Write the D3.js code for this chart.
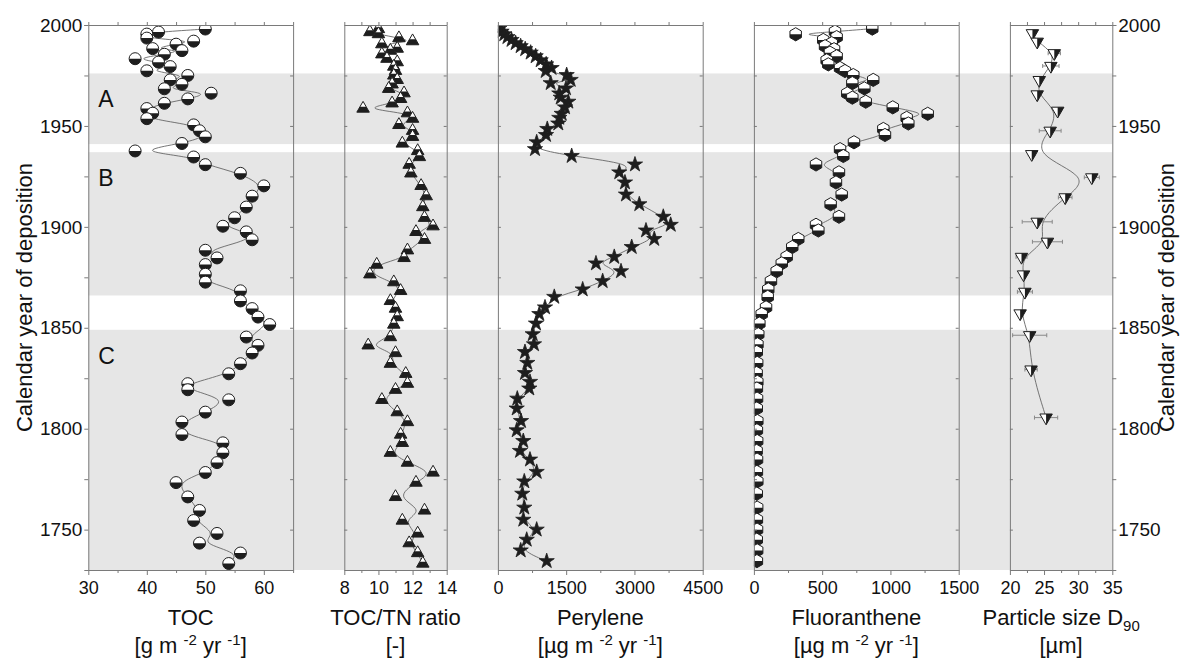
<!DOCTYPE html>
<html>
<head>
<meta charset="utf-8">
<script src="https://cdn.jsdelivr.net/npm/d3@7"></script>
<style>
  body { margin: 0; background: #fff; }
  svg { display: block; }
</style>
</head>
<body>
<div id="chart"></div>
<script>
const width = 1180;
const height = 660;

// sediment samples (TOC and TOC/TN share the same slices)
const sampleYears = [1998, 1996.5, 1995.5, 1993.5, 1992, 1990.5, 1988.3, 1987.3, 1985.5, 1983.3,
  1981.6, 1979.4, 1977.3, 1975, 1972.8, 1970.6, 1968.4, 1966.2, 1963.4, 1961.2,
  1958.6, 1956.3, 1953.6, 1950.5, 1947.6, 1944.6, 1941.3, 1937.6, 1934.6, 1930.8,
  1926.5, 1920.3, 1915.2, 1909.8, 1904.5, 1900.3, 1897.5, 1893.6, 1888.4, 1884.6,
  1881.3, 1876.5, 1872.6, 1868.3, 1863.3, 1859.5, 1855.3, 1851.6, 1845.4, 1841.3,
  1837.5, 1832.2, 1827.2, 1822.3, 1819.3, 1814.3, 1808.2, 1803.3, 1797.1, 1793,
  1788.1, 1783.2, 1778.3, 1773.3, 1766.2, 1759.5, 1754.5, 1748.1, 1743.3, 1738.4, 1733.2];

const tocValues = [50, 42, 40, 40, 48, 45, 41, 46, 43, 38,
  42, 44, 40, 47, 44, 46, 43, 51, 47, 43,
  40, 41, 40, 48, 49, 50, 46, 38, 48, 50,
  56, 60, 58, 57, 55, 53, 57, 58, 50, 52,
  50, 50, 50, 56, 56, 58, 59, 61, 57, 59,
  58, 56, 54, 47, 47, 54, 50, 46, 46, 53,
  53, 52, 50, 45, 47, 49, 48, 52, 49, 56, 54];

const tocTnValues = [10.0, 9.5, 10.0, 11.2, 12.0, 10.2, 11.1, 10.7, 10.2, 10.5,
  11.1, 10.9, 11.0, 10.9, 11.1, 10.8, 10.6, 11.5, 11.3, 10.8,
  9.1, 11.7, 12.0, 11.2, 12.0, 12.0, 11.4, 12.3, 12.4, 11.8,
  11.9, 12.5, 12.8, 12.6, 12.7, 13.2, 12.2, 12.7, 11.7, 11.5,
  9.9, 9.5, 10.9, 11.3, 10.7, 11.0, 11.1, 10.9, 10.7, 9.4,
  11.0, 10.7, 11.6, 11.7, 11.0, 10.2, 11.1, 11.7, 11.3, 11.4,
  10.7, 11.7, 13.2, 12.2, 11.0, 12.7, 11.4, 12.3, 11.8, 12.3, 12.6];

// PAH samples (perylene and fluoranthene share the same slices)
const pahYears = [1998.2, 1996.7, 1995.4, 1994, 1992.6, 1991, 1989.5, 1988, 1986.3, 1984.5,
  1982.5, 1980.5, 1978.7, 1977.2, 1975.2, 1972.8, 1971.2, 1968.6, 1966.1, 1964,
  1962, 1959.2, 1956, 1954, 1951.2, 1948.5, 1945.5, 1941.9, 1938.5, 1935.1,
  1930.9, 1927, 1922, 1916, 1911.2, 1905, 1901, 1898.2, 1894, 1890,
  1885.1, 1881.9, 1878, 1873.1, 1869, 1865.3, 1860.1, 1856.8, 1852.1, 1846.8,
  1841.8, 1838, 1832.6, 1827.6, 1823.2, 1819.9, 1814.9, 1810, 1803.8, 1799.2,
  1793.9, 1789, 1784.7, 1778.6, 1773.9, 1767.8, 1760.9, 1754.9, 1750, 1745, 1739.7, 1734.4];

const peryleneValues = [30, 80, 140, 210, 300, 390, 500, 600, 720, 830,
  940, 1060, 1180, 1050, 1511, 1599, 1160, 1496, 1349, 1380,
  1547, 1474, 1402, 1349, 1327, 1085, 1057, 852, 815, 1621,
  3012, 2667, 2792, 2814, 3107, 3634, 3797, 3254, 3436, 2940,
  2557, 2155, 2705, 2302, 1863, 1239, 1035, 910, 837, 765,
  793, 595, 646, 595, 705, 690, 426, 413, 508, 413,
  558, 486, 705, 852, 580, 536, 580, 558, 852, 633, 501, 1072];

const fluorantheneValues = [867, 594, 306, 606, 508, 570, 521, 587, 557, 606,
  533, 545, 631, 667, 728, 874, 721, 809, 684, 721,
  819, 1017, 1273, 1119, 1131, 948, 960, 733, 631, 655,
  455, 623, 601, 643, 562, 623, 455, 472, 325, 281,
  240, 204, 167, 125, 105, 101, 89, 57, 40, 32,
  26, 21, 24, 20, 25, 22, 23, 21, 25, 22,
  24, 20, 23, 22, 25, 21, 24, 22, 23, 21, 24, 22];

// grain size samples
const particleYears = [1995.9, 1991.7, 1986, 1979.7, 1972.7, 1965.6, 1957.5, 1947.6, 1936, 1924.5,
  1914.6, 1902.5, 1892.6, 1885.1, 1876.4, 1867.8, 1857.1, 1846.3, 1829.3, 1805.5];
const particleValues = [23.3, 24.0, 26.5, 26.0, 24.3, 24.0, 27.0, 25.9, 23.2, 32.0,
  28.1, 24.0, 25.5, 21.7, 22.0, 22.2, 21.5, 22.9, 23.1, 25.3];
const particleErrors = [0.3, 0.3, 0.9, 1.2, 0.4, 0.3, 0.4, 1.6, 0.5, 1.1,
  1.0, 2.2, 2.2, 0.8, 0.4, 1.1, 0.3, 2.5, 0.9, 1.7];

// zones
const zoneNames = ["A", "B", "C"];
const zoneTop = [1976, 1937, 1849];
const zoneBottom = [1941, 1866, 1730];

// axis ticks
const yearLabels = [1750, 1800, 1850, 1900, 1950, 2000];
const yearMinor = [1775, 1825, 1875, 1925, 1975];
const tocTicks = [30, 40, 50, 60], tocMinor = [35, 45, 55, 65];
const tnTicks = [8, 10, 12, 14], tnMinor = [9, 11, 13];
const perTicks = [0, 1500, 3000, 4500], perMinor = [750, 2250, 3750];
const fluTicks = [0, 500, 1000, 1500], fluMinor = [250, 750, 1250];
const ptTicks = [20, 25, 30, 35], ptMinor = [22.5, 27.5, 32.5];

const dark = "#1e1e1e";
const axisColor = "#7a7a7a";
const font = "Arial, 'Liberation Sans', sans-serif";

const y = d3.scaleLinear().domain([1730, 2000]).range([570, 25]);
const unit = 102.4, gap = unit / 2;

const zip = (years, values) => years.map((t, i) => ({t, v: values[i]}));

const panels = [
  {w: 2, domain: [30, 65], ticks: tocTicks, minor: tocMinor, data: zip(sampleYears, tocValues),
    shape: "circle", title: [["TOC", 0]], units: [["[g m ", 0], ["-2", 1], [" yr ", 0], ["-1", 1], ["]", 0]]},
  {w: 1, domain: [8, 14], ticks: tnTicks, minor: tnMinor, data: zip(sampleYears, tocTnValues),
    shape: "triUp", title: [["TOC/TN ratio", 0]], units: [["[-]", 0]]},
  {w: 2, domain: [0, 4500], ticks: perTicks, minor: perMinor, data: zip(pahYears, peryleneValues),
    shape: "star", title: [["Perylene", 0]], units: [["[µg m ", 0], ["-2", 1], [" yr ", 0], ["-1", 1], ["]", 0]]},
  {w: 2, domain: [0, 1500], ticks: fluTicks, minor: fluMinor, data: zip(pahYears, fluorantheneValues),
    shape: "hexagon", title: [["Fluoranthene", 0]], units: [["[µg m ", 0], ["-2", 1], [" yr ", 0], ["-1", 1], ["]", 0]]},
  {w: 1, domain: [20, 35], ticks: ptTicks, minor: ptMinor,
    data: particleYears.map((t, i) => ({t, v: particleValues[i], e: particleErrors[i]})),
    shape: "triDown", title: [["Particle size D", 0], ["90", -1]], units: [["[µm]", 0]]}
];

let cursor = 88.3;
panels.forEach(p => {
  p.x0 = cursor;
  p.x1 = cursor + p.w * unit;
  cursor = p.x1 + gap;
  p.x = d3.scaleLinear().domain(p.domain).range([p.x0, p.x1]);
});
const plotLeft = panels[0].x0;
const plotRight = panels[panels.length - 1].x1;

const svg = d3.select("#chart").append("svg")
    .attr("width", width)
    .attr("height", height)
    .style("font-family", font);

const defs = svg.append("defs");
defs.append("clipPath").attr("id", "lowerHalf")
  .append("rect").attr("x", -20).attr("y", 0).attr("width", 40).attr("height", 20);
defs.append("clipPath").attr("id", "lowerTri")
  .append("rect").attr("x", -20).attr("y", -1.8).attr("width", 40).attr("height", 20);
defs.append("clipPath").attr("id", "rightHalf")
  .append("rect").attr("x", 0).attr("y", -20).attr("width", 20).attr("height", 40);

const poly = pts => "M" + pts.map(p => p.map(v => v.toFixed(2)).join(",")).join("L") + "Z";
const s = 12.5, r3 = Math.sqrt(3);
const shapes = {
  circle: {d: d3.symbol(d3.symbolCircle, Math.PI * 6 * 6)(), clip: "lowerHalf"},
  triUp: {d: poly([[0, -s / r3], [s / 2, s / (2 * r3)], [-s / 2, s / (2 * r3)]]), clip: "lowerTri"},
  star: {d: d3.symbol(d3.symbolStar, 72)(), clip: null},
  hexagon: {d: poly(d3.range(6).map(k => {
    const a = -Math.PI / 2 + k * Math.PI / 3;
    return [6.6 * Math.cos(a), 6.6 * Math.sin(a)];
  })), clip: "lowerHalf"},
  triDown: {d: poly([[0, s / r3], [s / 2, -s / (2 * r3)], [-s / 2, -s / (2 * r3)]]), clip: "rightHalf"}
};

// zone bands
svg.append("g")
  .selectAll("rect")
  .data(zoneNames)
  .join("rect")
    .attr("x", plotLeft)
    .attr("width", plotRight - plotLeft)
    .attr("y", (d, i) => y(zoneTop[i]))
    .attr("height", (d, i) => y(zoneBottom[i]) - y(zoneTop[i]))
    .attr("fill", "#e6e6e6");

svg.append("g")
    .style("font-size", "23px")
    .attr("fill", "#111")
  .selectAll("text")
  .data(zoneNames)
  .join("text")
    .attr("x", plotLeft + 10)
    .attr("y", (d, i) => y(zoneTop[i]) + 34)
    .text(d => d);

panels.forEach((p, pi) => {
  const clipId = "panel" + pi;
  defs.append("clipPath").attr("id", clipId)
    .append("rect")
      .attr("x", p.x0).attr("y", y(2000))
      .attr("width", p.x1 - p.x0).attr("height", y(1730) - y(2000));

  const g = svg.append("g").attr("clip-path", `url(#${clipId})`);

  const line = d3.line()
      .x(d => p.x(d.v))
      .y(d => y(d.t))
      .curve(d3.curveBasis);

  g.append("path")
      .datum(p.data)
      .attr("fill", "none")
      .attr("stroke", "#666")
      .attr("stroke-width", 0.9)
      .attr("d", line);

  if (p.shape === "triDown") {
    const eb = g.append("g").attr("stroke", "#888").attr("stroke-width", 1);
    eb.selectAll("path")
      .data(p.data)
      .join("path")
        .attr("d", d => {
          const a = p.x(d.v - d.e), b = p.x(d.v + d.e), yy = y(d.t);
          return `M${a},${yy}H${b}M${a},${yy - 2}V${yy + 2}M${b},${yy - 2}V${yy + 2}`;
        });
  }

  const shape = shapes[p.shape];
  const m = g.append("g")
    .selectAll("g")
    .data(p.data)
    .join("g")
      .attr("transform", d => `translate(${p.x(d.v)},${y(d.t)})`);

  if (shape.clip) {
    m.append("path").attr("d", shape.d).attr("fill", "#fff");
    m.append("path").attr("d", shape.d).attr("fill", dark).attr("clip-path", `url(#${shape.clip})`);
    m.append("path").attr("d", shape.d).attr("fill", "none").attr("stroke", dark).attr("stroke-width", 1);
  } else {
    m.append("path").attr("d", shape.d).attr("fill", dark).attr("stroke", dark).attr("stroke-width", 0.8);
  }

  // frame and ticks
  const styleAxis = sel => {
    sel.select(".domain").attr("stroke", axisColor);
    sel.selectAll(".tick line").attr("stroke", axisColor);
    sel.selectAll("text").attr("fill", "#111");
  };

  svg.append("g")
      .attr("transform", `translate(0,${y(1730)})`)
      .call(d3.axisBottom(p.x).tickValues(p.ticks).tickSize(5).tickSizeOuter(0).tickFormat(d3.format("d")))
      .call(styleAxis)
      .call(a => a.selectAll("text").attr("dy", null).attr("y", 24)
        .style("font-size", "18px").style("font-family", font));
  svg.append("g")
      .attr("transform", `translate(0,${y(1730)})`)
      .call(d3.axisBottom(p.x).tickValues(p.minor).tickSize(3).tickFormat(""))
      .call(styleAxis)
      .call(a => a.select(".domain").remove());
  svg.append("g")
      .attr("transform", `translate(0,${y(2000)})`)
      .call(d3.axisTop(p.x).tickValues(p.ticks.concat(p.minor)).tickSize(3).tickSizeOuter(0).tickFormat(""))
      .call(styleAxis);

  const isFirst = pi === 0, isLast = pi === panels.length - 1;
  const leftAxis = d3.axisLeft(y).tickValues(yearLabels.concat(yearMinor)).tickSizeOuter(0)
      .tickSize(isFirst ? 4 : -3).tickFormat("");
  const rightAxis = d3.axisRight(y).tickValues(yearLabels.concat(yearMinor)).tickSizeOuter(0)
      .tickSize(isLast ? 4 : -3).tickFormat("");
  svg.append("g").attr("transform", `translate(${p.x0},0)`).call(leftAxis).call(styleAxis);
  svg.append("g").attr("transform", `translate(${p.x1},0)`).call(rightAxis).call(styleAxis);

  // titles
  const cx = (p.x0 + p.x1) / 2;
  const addRich = (parts, baseline) => {
    const t = svg.append("text")
        .attr("x", cx).attr("y", baseline)
        .attr("text-anchor", "middle")
        .attr("fill", "#111")
        .style("font-size", "22px");
    let shift = 0;
    parts.forEach(([txt, mode]) => {
      const target = mode === 1 ? -8 : mode === -1 ? 6 : 0;
      t.append("tspan")
          .attr("dy", target - shift)
          .style("font-size", mode ? "15px" : "22px")
          .text(txt);
      shift = target;
    });
  };
  addRich(p.title, 625);
  addRich(p.units, 653);
});

// year labels on both sides
const yl = svg.append("g")
    .attr("fill", "#111")
    .style("font-size", "19px");
yl.selectAll(".yl")
  .data(yearLabels)
  .join("text")
    .attr("x", plotLeft - 6)
    .attr("y", d => y(d))
    .attr("dy", "0.35em")
    .attr("text-anchor", "end")
    .text(d => d);
yl.selectAll(".yr")
  .data(yearLabels)
  .join("text")
    .attr("x", plotRight + 6)
    .attr("y", d => y(d))
    .attr("dy", "0.35em")
    .text(d => d);

const yTitle = "Calendar year of deposition";
[31.5, 1174].forEach(xx => {
  svg.append("text")
      .attr("transform", `translate(${xx},${(y(2000) + y(1730)) / 2}) rotate(-90)`)
      .attr("text-anchor", "middle")
      .attr("fill", "#111")
      .style("font-size", "22px")
      .text(yTitle);
});
</script>
</body>
</html>
